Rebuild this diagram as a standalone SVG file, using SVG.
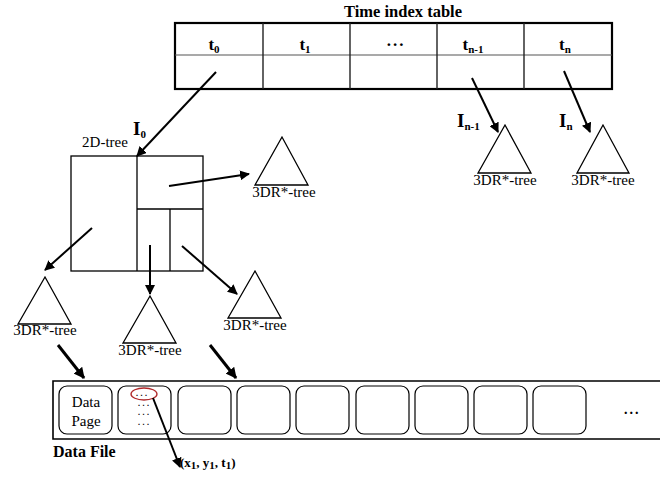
<svg xmlns="http://www.w3.org/2000/svg" width="660" height="478" viewBox="0 0 660 478">
  <defs>
    <marker id="ah" viewBox="0 0 10 10" refX="9" refY="5" markerWidth="10" markerHeight="10" markerUnits="userSpaceOnUse" orient="auto">
      <path d="M0,0 L10,5 L0,10 z" fill="#000"/>
    </marker>
    <marker id="ahb" viewBox="0 0 10 10" refX="9" refY="5" markerWidth="11" markerHeight="11" markerUnits="userSpaceOnUse" orient="auto">
      <path d="M0,0 L10,5 L0,10 z" fill="#000"/>
    </marker>
    <style>
      text { font-family: "Liberation Serif", "Times New Roman", serif; fill: #000; }
      .b { font-weight: bold; }
      .lbl { font-size: 15px; text-anchor: middle; }
      .tl { font-size: 17px; font-weight: bold; text-anchor: middle; }
      .il { font-size: 19px; font-weight: bold; }
      .sub { font-size: 11px; }
      .dots { font-size: 8px; font-weight: bold; letter-spacing: 2.5px; }
      .tri { fill: #fff; stroke: #000; stroke-width: 1.3; }
      .thin { fill: none; stroke: #000; stroke-width: 1.3; }
      .page { fill: #fff; stroke: #000; stroke-width: 1.2; }
      .arr { stroke: #000; stroke-width: 2; fill: none; marker-end: url(#ah); }
      .arrb { stroke: #000; stroke-width: 3; fill: none; marker-end: url(#ahb); }
    </style>
  </defs>

  <!-- time index table -->
  <g id="time-table">
    <text x="403" y="17" class="b" font-size="16.5" text-anchor="middle">Time index table</text>
    <rect x="175" y="23" width="437" height="66" fill="#fff" stroke="#000" stroke-width="2.2"/>
    <line x1="175" y1="55" x2="612" y2="55" stroke="#555" stroke-width="1.2"/>
    <g stroke="#222" stroke-width="1.4">
      <line x1="263" y1="23" x2="263" y2="89"/>
      <line x1="350" y1="23" x2="350" y2="89"/>
      <line x1="437" y1="23" x2="437" y2="89"/>
      <line x1="524" y1="23" x2="524" y2="89"/>
    </g>
    <text x="214" y="50" class="tl">t<tspan class="sub" dy="3">0</tspan></text>
    <text x="305" y="50" class="tl">t<tspan class="sub" dy="3">1</tspan></text>
    <text x="396" y="46" class="tl" letter-spacing="2">...</text>
    <text x="473" y="50" class="tl">t<tspan class="sub" dy="3">n-1</tspan></text>
    <text x="565" y="50" class="tl">t<tspan class="sub" dy="3">n</tspan></text>
  </g>

  <!-- 2D-tree partition box -->
  <g id="tree2d">
    <text x="105" y="147" class="lbl" font-size="16">2D-tree</text>
    <rect x="71" y="156" width="132" height="115" class="thin"/>
    <line x1="137" y1="156" x2="137" y2="271" class="thin"/>
    <line x1="137" y1="209" x2="203" y2="209" class="thin"/>
    <line x1="170" y1="209" x2="170" y2="271" class="thin"/>
  </g>

  <!-- 3DR*-trees -->
  <g id="tree-r0">
    <polygon points="282,137 255,185 308,185" class="tri"/>
    <text x="284" y="197" class="lbl">3DR*-tree</text>
  </g>
  <g id="tree-left">
    <polygon points="45,277 18,324 71,324" class="tri"/>
    <text x="45" y="335" class="lbl">3DR*-tree</text>
  </g>
  <g id="tree-mid">
    <polygon points="150,296 123,343 176,343" class="tri"/>
    <text x="150" y="355" class="lbl">3DR*-tree</text>
  </g>
  <g id="tree-right">
    <polygon points="255,271 228,318 281,318" class="tri"/>
    <text x="255" y="330" class="lbl">3DR*-tree</text>
  </g>
  <g id="tree-n1">
    <polygon points="505,125 478,173 531,173" class="tri"/>
    <text x="505" y="185" class="lbl">3DR*-tree</text>
  </g>
  <g id="tree-n">
    <polygon points="603,125 577,173 629,173" class="tri"/>
    <text x="603" y="185" class="lbl">3DR*-tree</text>
  </g>

  <!-- index labels -->
  <g id="labels">
    <text x="133" y="135" class="il">I<tspan class="sub" font-size="12" dy="3">0</tspan></text>
    <text x="457" y="127" class="il">I<tspan class="sub" font-size="12" dy="3">n-1</tspan></text>
    <text x="559" y="127" class="il">I<tspan class="sub" font-size="12" dy="3">n</tspan></text>
  </g>

  <!-- data file with pages -->
  <g id="data-file">
    <path d="M660,381 H53 V439 H660" fill="#fff" stroke="#000" stroke-width="1.6"/>
    <rect x="59" y="386" width="53" height="48" rx="8" class="page"/>
    <rect x="118" y="386" width="53" height="48" rx="8" class="page"/>
    <rect x="178" y="386" width="53" height="48" rx="8" class="page"/>
    <rect x="237" y="386" width="53" height="48" rx="8" class="page"/>
    <rect x="296" y="386" width="53" height="48" rx="8" class="page"/>
    <rect x="356" y="386" width="53" height="48" rx="8" class="page"/>
    <rect x="415" y="386" width="53" height="48" rx="8" class="page"/>
    <rect x="474" y="386" width="53" height="48" rx="8" class="page"/>
    <rect x="533" y="386" width="53" height="48" rx="8" class="page"/>
    <text x="86" y="407" class="lbl">Data</text>
    <text x="86" y="426" class="lbl">Page</text>
    <text x="136" y="396" class="dots">...</text>
    <text x="138" y="405.5" class="dots">...</text>
    <text x="138" y="415" class="dots">...</text>
    <text x="138" y="424.5" class="dots">...</text>
    <ellipse cx="144" cy="394" rx="13" ry="6" fill="none" stroke="#b0282a" stroke-width="1.3"/>
    <text x="624" y="414" class="b" font-size="14" letter-spacing="2">...</text>
    <text x="53" y="457" class="b" font-size="16">Data File</text>
    <text x="180" y="467" class="b" font-size="13">(x<tspan class="sub" font-size="9" dy="2">1</tspan><tspan dy="-2">, y</tspan><tspan class="sub" font-size="9" dy="2">1</tspan><tspan dy="-2">, t</tspan><tspan class="sub" font-size="9" dy="2">1</tspan><tspan dy="-2">)</tspan></text>
  </g>

  <!-- connectors -->
  <g id="connectors">
    <line x1="216" y1="72" x2="137" y2="156" class="arr"/>
    <line x1="472" y1="78" x2="498" y2="132" class="arr"/>
    <line x1="564" y1="71" x2="590" y2="132" class="arr"/>
    <line x1="169" y1="186" x2="249" y2="174" class="arr"/>
    <line x1="92" y1="228" x2="45" y2="270" class="arr"/>
    <line x1="150" y1="245" x2="150" y2="294" class="arr"/>
    <line x1="182" y1="246" x2="237" y2="294" class="arr"/>
    <line x1="58" y1="345" x2="84" y2="378" class="arrb"/>
    <line x1="210" y1="345" x2="236" y2="378" class="arrb"/>
    <line x1="153" y1="398" x2="180" y2="467" class="arr"/>
  </g>
</svg>
